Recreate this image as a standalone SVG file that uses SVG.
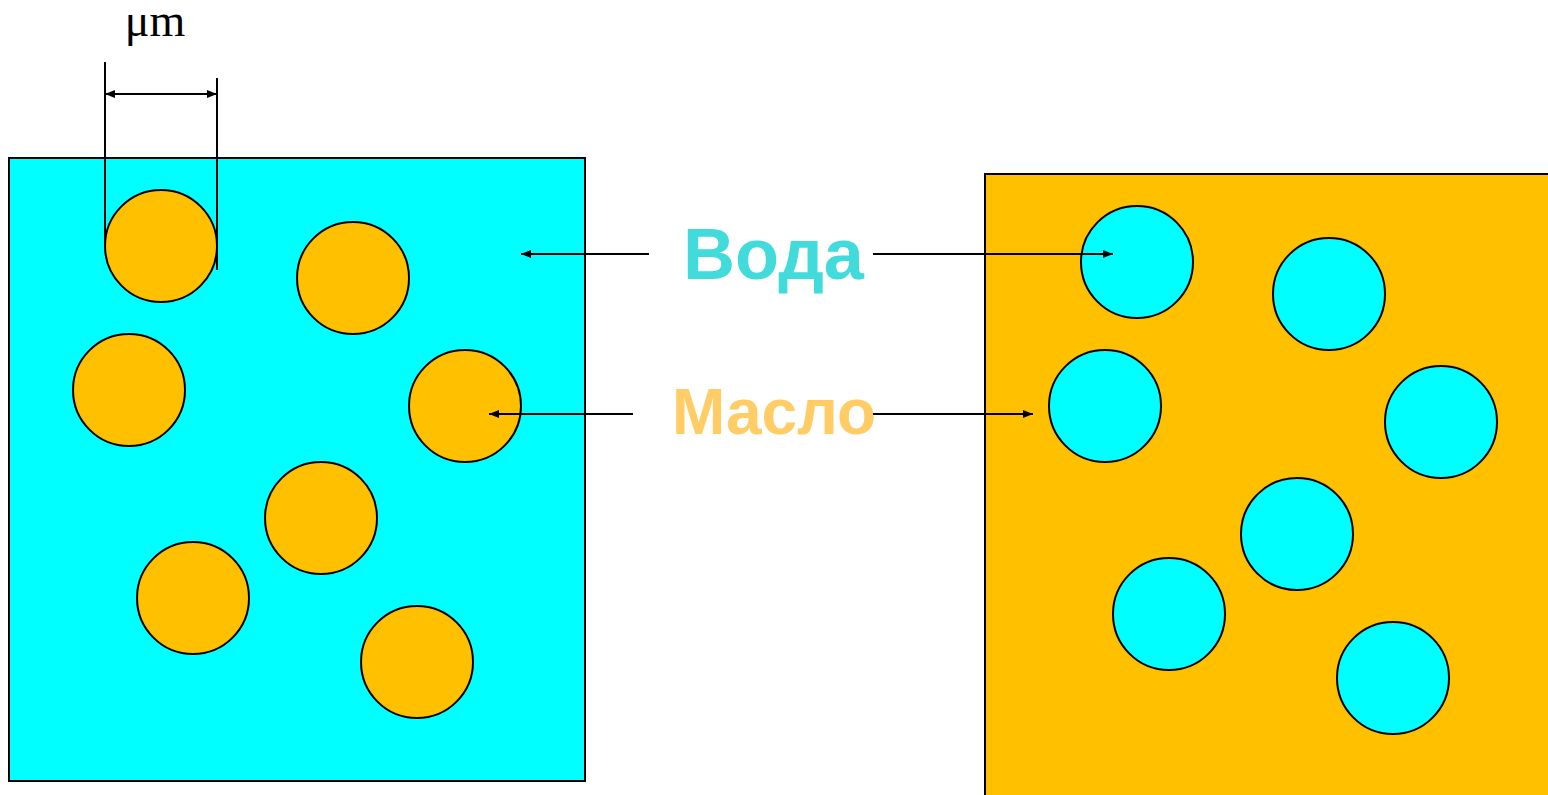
<svg xmlns="http://www.w3.org/2000/svg" width="1548" height="795" viewBox="0 0 1548 795">
<defs>
<marker id="ah" viewBox="0 0 10 8" refX="10" refY="4" markerWidth="10" markerHeight="8" markerUnits="userSpaceOnUse" orient="auto-start-reverse"><path d="M0,0 L10,4 L0,8 Z" fill="#000"/></marker>
</defs>
<style>
.box{stroke:#000;stroke-width:2}
.oil{fill:#FFC000;stroke:#000;stroke-width:2}
.water{fill:#00FFFF;stroke:#000;stroke-width:2}
.ln{stroke:#000;stroke-width:2;fill:none}
.arr{stroke:#000;stroke-width:2;fill:none;marker-end:url(#ah)}
.lbl{font-family:"Liberation Sans",Arial,sans-serif;font-weight:bold}
</style>
<rect width="1548" height="795" fill="#fff"/>
<g id="left-panel">
<rect class="box" x="9" y="158" width="576" height="623" fill="#00FFFF"/>
<circle class="oil" cx="161" cy="246" r="56"/>
<circle class="oil" cx="353" cy="278" r="56"/>
<circle class="oil" cx="129" cy="390" r="56"/>
<circle class="oil" cx="465" cy="406" r="56"/>
<circle class="oil" cx="321" cy="518" r="56"/>
<circle class="oil" cx="193" cy="598" r="56"/>
<circle class="oil" cx="417" cy="662" r="56"/>
</g>
<g id="right-panel">
<rect class="box" x="985" y="174" width="580" height="640" fill="#FFC000"/>
<circle class="water" cx="1137" cy="262" r="56"/>
<circle class="water" cx="1329" cy="294" r="56"/>
<circle class="water" cx="1105" cy="406" r="56"/>
<circle class="water" cx="1441" cy="422" r="56"/>
<circle class="water" cx="1297" cy="534" r="56"/>
<circle class="water" cx="1169" cy="614" r="56"/>
<circle class="water" cx="1393" cy="678" r="56"/>
</g>
<g id="scale">
<line class="ln" x1="105" y1="62" x2="105" y2="246"/>
<line class="ln" x1="217" y1="78" x2="217" y2="270"/>
<line class="ln" x1="105" y1="94" x2="217" y2="94" marker-start="url(#ah)" marker-end="url(#ah)"/>
<text x="155" y="36" font-family="'Liberation Serif','Times New Roman',serif" font-size="46" text-anchor="middle">μm</text>
</g>
<g id="label-voda">
<text class="lbl" x="773.5" y="279" font-size="72" text-anchor="middle" fill="#41DBDB">Вода</text>
</g>
<g id="label-maslo">
<text class="lbl" x="774" y="434" font-size="64" text-anchor="middle" fill="#FFCC66">Масло</text>
</g>
<g id="connectors">
<line class="arr" x1="649" y1="254" x2="521" y2="254"/>
<line class="arr" x1="873" y1="254" x2="1113" y2="254"/>
<line class="arr" x1="633" y1="414" x2="489" y2="414"/>
<line class="arr" x1="873" y1="414" x2="1033" y2="414"/>
</g>
</svg>
